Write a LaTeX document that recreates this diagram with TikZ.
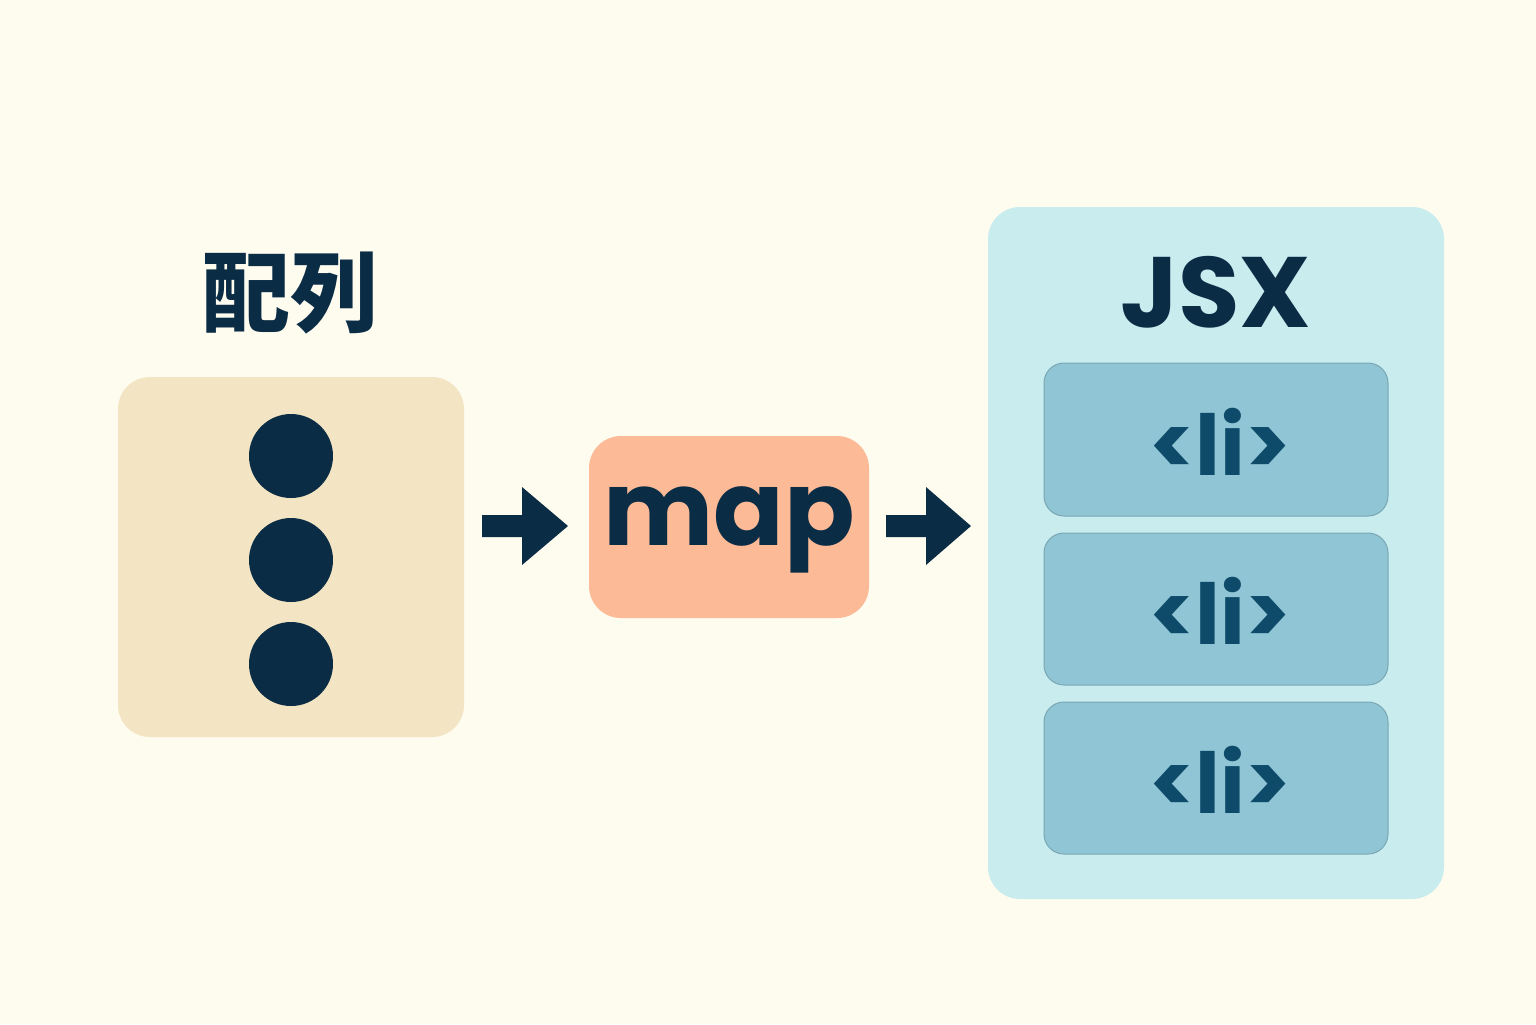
\documentclass[tikz,border=0pt]{standalone}
\usepackage{fontspec}
\setmainfont{Poppins}
\newfontfamily\cjk{Noto Sans CJK JP}
\definecolor{bg}{HTML}{FEFBEF}
\definecolor{navy}{HTML}{0A2C45}
\definecolor{sand}{HTML}{F3E5C3}
\definecolor{peach}{HTML}{FDBA96}
\definecolor{cyanl}{HTML}{C9ECEF}
\definecolor{teal}{HTML}{8FC5D4}
\definecolor{litext}{HTML}{0E4A6A}
\begin{document}
\begin{tikzpicture}[x=0.5pt,y=-0.5pt,
  box/.style={rounded corners=16pt},
  libox/.style={box,fill=teal,draw=teal!85!black,line width=0.5pt,rounded corners=10pt},
  litxt/.style={text=litext,font=\fontsize{42}{50}\selectfont\bfseries},
  dot/.style={circle,fill=navy,minimum size=42pt,inner sep=0pt},
  bigarrow/.style={fill=navy}]
\fill[bg] (0,0) rectangle (1536,1024);
\node[text=navy,font=\cjk\fontsize{44}{50}\selectfont\bfseries] (title) at (290,293) {配列};
\fill[sand,box] (118,377) rectangle (464,737);
\node[dot] (d1) at (291,456) {};
\node[dot] (d2) at (291,560) {};
\node[dot] (d3) at (291,664) {};
\fill[bigarrow] (482,515) -- (522,515) -- (522,487) -- (568,526) -- (522,565) -- (522,537) -- (482,537) -- cycle;
\fill[peach,box] (589,436) rectangle (869,618);
\node[text=navy,font=\fontsize{52}{60}\selectfont\bfseries] (map) at (729,530) {map};
\fill[bigarrow] (886,515) -- (926,515) -- (926,487) -- (971,526) -- (926,565) -- (926,537) -- (886,537) -- cycle;
\fill[cyanl,box] (988,207) rectangle (1444,899);
\node[text=navy,font=\fontsize{50}{60}\selectfont\bfseries] (jsx) at (1216,292) {JSX};
\draw[libox] (1044,363) rectangle (1388,516);
\draw[libox] (1044,533) rectangle (1388,685);
\draw[libox] (1044,702) rectangle (1388,854);
\node[litxt] (l1) at (1220,442) {<li>};
\node[litxt] (l2) at (1220,611) {<li>};
\node[litxt] (l3) at (1220,780) {<li>};
\end{tikzpicture}
\end{document}
